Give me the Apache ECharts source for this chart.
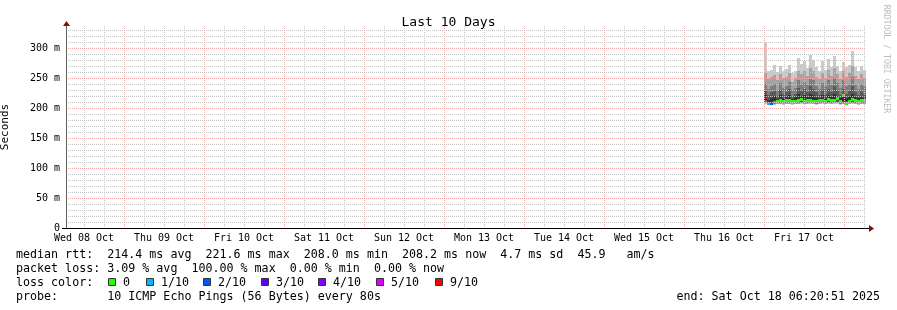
<!DOCTYPE html>
<html><head><meta charset="utf-8">
<script src="https://cdn.jsdelivr.net/npm/echarts@6/dist/echarts.min.js"></script>
<style>html,body{margin:0;padding:0;background:#fff}#c{width:897px;height:310px}</style>
</head><body><div id="c"></div>
<script>
// ---- axis / tick data (x in hours since Wed 08 Oct 00:00) ----
const xMinHour = 6.6;
const xMaxHour = 246.6;
const dayLabels = ['Wed 08 Oct','Thu 09 Oct','Fri 10 Oct','Sat 11 Oct','Sun 12 Oct','Mon 13 Oct','Tue 14 Oct','Wed 15 Oct','Thu 16 Oct','Fri 17 Oct'];
const dayLabelHours = [12,36,60,84,108,132,156,180,204,228];
const yTickValues = [0,50,100,150,200,250,300];
const yMaxMs = 336.6667;

// ---- smoke samples (ms), one column per sample ----
const sampleStartHour = 216;   // Fri 17 Oct 00:00
const sampleStepHours = 0.9;
const ping1  = [207,205.5,205,205.5,206,206,205.5,206,206.5,205.5,206,206,206.5,206,206,206.5,206,205.5,206,206.5,206,206.5,206,206.5,207,205.5,206,206.5,206,206.5,206,205.5,206,206];
const ping2  = [208,206.5,206,206.5,207,207.5,207,207.5,207.5,207,207,207.5,208,207,207.5,208,207,206.5,207.5,208,207,208,207.5,208,208.5,206.5,207.5,208,207,208,207.5,207,207.5,207.5];
const ping3  = [209.5,207,206.5,207,208,208.5,208,208.5,208.5,208,208,208.5,209,208,208.5,209,208,207.5,208.5,209,208,209,208.5,209,209.5,207.5,208.5,209,208,209,208.5,208,208.5,208.5];
const ping4  = [211,207.5,207,207.5,209,209.5,209,210,209.5,209,209,209.5,210,209,209.5,210,209,208.5,209.5,210,209,210,209.5,210,210.5,208.5,209.5,210,209,210,209.5,209,210,209.5];
const ping5  = [214,208,207,208,210,211,210,211,211,210,210,211,212,210,211,212,210,209,211,211,210,212,211,212,213,209,211,211,210,212,211,210,211,211];
const ping6  = [222,214,216,220,215,221,217,219,222,215,218,223,220,222,218,224,222,218,216,221,217,222,219,224,220,216,222,217,220,224,218,216,220,217];
const ping7  = [228,222,226,228,220,230,224,226,232,220,224,234,228,232,226,236,232,226,222,230,224,232,226,236,230,222,232,224,228,236,226,222,228,224];
const ping8  = [240,232,236,240,230,242,234,236,244,230,234,246,240,244,238,248,246,236,232,242,236,246,238,250,242,234,246,236,240,252,238,232,240,236];
const ping9  = [258,248,252,255,246,256,250,252,258,244,250,262,256,262,254,266,262,252,248,258,250,264,254,266,256,248,262,252,258,270,254,248,256,250];
const ping10 = [310,262,263,272,260,270,262,265,272,258,262,283,274,278,266,288,280,268,262,278,264,281,268,287,270,262,276,268,272,295,268,262,270,264];
const medianMs = [218,209,208,210,212,213,212,214,213,212,212,213,215,212,213,214,212,211,213,214,212,215,213,214,216,211,221,209,212,215,213,212,214,213];
const lossTenths = [9,1,2,1,0,0,0,0,0,0,0,0,0,0,0,0,0,0,0,0,0,0,0,0,0,0,0,0,0,0,0,0,0,0];

// ---- legend data ----
const lossLegendLabels = ['0','1/10','2/10','3/10','4/10','5/10','9/10'];
const lossLegendTenths = [0,1,2,3,4,5,9];
const lossColorList = ['#26ff00','#00b8ff','#0059ff','#5e00ff','#7e00ff','#dd00ff','#ff0000'];
const statLine1 = 'median rtt:  214.4 ms avg  221.6 ms max  208.0 ms min  208.2 ms now  4.7 ms sd  45.9   am/s';
const statLine2 = 'packet loss: 3.09 % avg  100.00 % max  0.00 % min  0.00 % now';
const statLine3 = 'loss color:';
const statLine4 = 'probe:       10 ICMP Echo Pings (56 Bytes) every 80s';
const endText = 'end: Sat Oct 18 06:20:51 2025';
const titleText = 'Last 10 Days';
const yName = 'Seconds';
const watermark = 'RRDTOOL / TOBI OETIKER';

const FONT = 'DejaVu Sans Mono';
const smokeGreys = ['#cacaca','#a4a4a4','#7e7e7e','#585858','#323232'];
const minorGridColor = '#c4c4c4';
const majorGridColor = '#f5a5a5';

function lossColor(t){ const k = lossLegendTenths.indexOf(t); return lossColorList[k >= 0 ? k : 0]; }

const pingRows = [ping1,ping2,ping3,ping4,ping5,ping6,ping7,ping8,ping9,ping10];
const smokeData = ping1.map((_, i) => {
  const t0 = sampleStartHour + sampleStepHours * i;
  return [t0, t0 + sampleStepHours].concat(pingRows.map(r => r[i]));
});
const medianData = medianMs.map((m, i) => {
  const t0 = sampleStartHour + sampleStepHours * i;
  return [t0, t0 + sampleStepHours, m, lossTenths[i]];
});

const chart = echarts.init(document.getElementById('c'), null, {renderer: 'canvas'});

function clipRect(r, params) {
  return echarts.graphic.clipRectByRect(r, {
    x: params.coordSys.x, y: params.coordSys.y, width: params.coordSys.width, height: params.coordSys.height
  });
}

chart.setOption({
  animation: false,
  backgroundColor: '#ffffff',
  title: {text: titleText, left: 'center', top: 11, textStyle: {fontFamily: FONT, fontSize: 13, fontWeight: 'normal', color: '#000'}},
  grid: {left: 66, top: 26, width: 800, height: 202, containLabel: false, outerBoundsMode: 'none'},
  xAxis: {
    type: 'value', min: xMinHour, max: xMaxHour,
    axisLine: {show: false}, axisTick: {show: false}, splitLine: {show: false},
    axisLabel: {
      customValues: dayLabelHours, margin: 5,
      fontFamily: FONT, fontSize: 10, color: '#000',
      formatter: v => dayLabels[dayLabelHours.indexOf(Math.round(v))] || ''
    }
  },
  yAxis: {
    type: 'value', min: 0, max: yMaxMs,
    name: yName, nameLocation: 'middle', nameRotate: 90, nameGap: 55,
    nameTextStyle: {fontFamily: FONT, fontSize: 11, color: '#000'},
    axisLine: {show: false}, axisTick: {show: false}, splitLine: {show: false},
    axisLabel: {
      customValues: yTickValues, margin: 6,
      fontFamily: FONT, fontSize: 10, color: '#000',
      formatter: v => v === 0 ? '0' : Math.round(v) + ' m'
    }
  },
  series: [
    {
      type: 'custom', name: 'smoke', z: 2, clip: true,
      encode: {x: [0, 1], y: [2, 11]},
      data: smokeData,
      renderItem: (params, api) => {
        const x0 = api.value(0), x1 = api.value(1);
        const children = [];
        for (let k = 0; k < 5; k++) {
          const lo = api.value(2 + k), hi = api.value(11 - k);
          const a = api.coord([x0, hi]), b = api.coord([x1, lo]);
          const L = Math.round(a[0]), R = Math.round(b[0]), T = Math.round(a[1]), B = Math.round(b[1]);
          const r = clipRect({x: L, y: T, width: R - L, height: Math.max(1, B - T)}, params);
          if (r) children.push({type: 'rect', shape: r, style: {fill: smokeGreys[k]}});
        }
        return {type: 'group', children};
      }
    },
    {
      type: 'custom', name: 'median', z: 3, clip: true,
      encode: {x: [0, 1], y: 2},
      data: medianData,
      renderItem: (params, api) => {
        const a = api.coord([api.value(0), api.value(2)]);
        const b = api.coord([api.value(1), api.value(2)]);
        const L = Math.round(a[0]), R = Math.round(b[0]);
        const r = clipRect({x: L, y: Math.round(a[1]) - 1, width: R - L, height: 3}, params);
        if (!r) return null;
        return {type: 'rect', shape: r, style: {fill: lossColor(api.value(3))}};
      }
    }
  ]
});

// grid lines, axis lines, arrows and legend text (positions from the axis scales)
const px = (h, v) => chart.convertToPixel({gridIndex: 0}, [h, v]);
const o = px(xMinHour, 0);
const e = px(xMaxHour, yMaxMs);
const snap = v => Math.round(v) + 0.5;
const gx0 = o[0], gy0 = o[1], gxR = e[0], gyT = e[1];
const graphics = [];
for (let h = 6; h <= xMaxHour; h += 6) {
  if (h <= xMinHour) continue;
  const x = snap(px(h, 0)[0]);
  graphics.push({type: 'line', z: 5, silent: true, shape: {x1: x, y1: gyT, x2: x, y2: gy0},
    style: {stroke: h % 24 === 0 ? majorGridColor : minorGridColor, lineWidth: 1, lineDash: [1, 1]}});
}
for (let v = 10; v < yMaxMs; v += 10) {
  const y = snap(px(xMinHour, v)[1]);
  graphics.push({type: 'line', z: 5, silent: true, shape: {x1: gx0, y1: y, x2: gxR, y2: y},
    style: {stroke: v % 50 === 0 ? majorGridColor : minorGridColor, lineWidth: 1, lineDash: [1, 1]}});
}
const arrowColor = '#7f1010';
const ax = snap(gx0), ay = snap(gy0);
graphics.push(
  {type: 'line', z: 10, shape: {x1: gx0 - 4, y1: ay, x2: gxR + 3, y2: ay}, style: {stroke: '#000', lineWidth: 1}},
  {type: 'line', z: 10, shape: {x1: ax, y1: gy0, x2: ax, y2: gyT - 3}, style: {stroke: '#606060', lineWidth: 1}},
  {type: 'polygon', z: 11, shape: {points: [[ax - 3.5, gyT], [ax + 3.5, gyT], [ax, gyT - 5]]}, style: {fill: arrowColor}},
  {type: 'polygon', z: 11, shape: {points: [[gxR + 3, ay - 3.5], [gxR + 3, ay + 3.5], [gxR + 8, ay]]}, style: {fill: arrowColor}},
  {type: 'text', z: 10, x: 886, y: 59, rotation: -Math.PI / 2,
    style: {text: watermark, fill: '#bdbdbd', font: '8.2px "' + FONT + '"', textAlign: 'center', textVerticalAlign: 'middle'}}
);
const legendFont = '11.67px "' + FONT + '"';
const rowsY = [254.5, 268.5, 282.5, 296.5];
[statLine1, statLine2, statLine3, statLine4].forEach((t, i) => {
  graphics.push({type: 'text', z: 10, x: 16, y: rowsY[i], style: {text: t, fill: '#000', font: legendFont, textVerticalAlign: 'middle'}});
});
const boxX = [108, 146, 203, 261, 318, 376, 435];
lossLegendLabels.forEach((lab, i) => {
  graphics.push({type: 'rect', z: 10, shape: {x: boxX[i] + 0.5, y: rowsY[2] - 4, width: 7, height: 7},
    style: {fill: lossColorList[i], stroke: '#333', lineWidth: 1}});
  graphics.push({type: 'text', z: 10, x: boxX[i] + 15, y: rowsY[2], style: {text: lab, fill: '#000', font: legendFont, textVerticalAlign: 'middle'}});
});
graphics.push({type: 'text', z: 10, x: 880, y: rowsY[3], style: {text: endText, fill: '#000', font: legendFont, textAlign: 'right', textVerticalAlign: 'middle'}});
chart.setOption({graphic: graphics});
</script>
</body></html>
